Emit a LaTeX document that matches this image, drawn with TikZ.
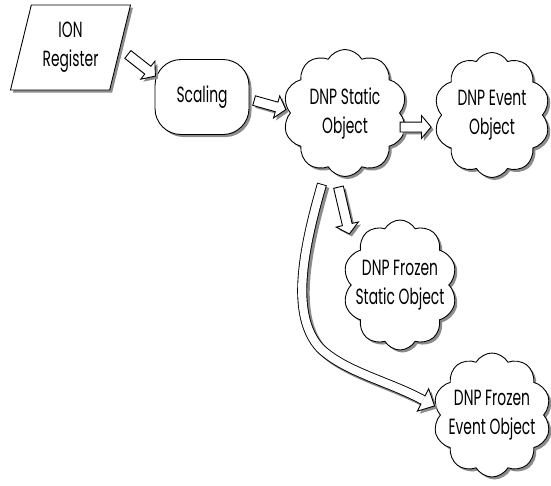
\documentclass[tikz,border=0pt]{standalone}
\usepackage{fontspec}
\setmainfont{Poppins}[FakeStretch=0.63]
\usetikzlibrary{shapes.geometric,shapes.symbols,shapes.arrows,shadows,calc}
\begin{document}
\begin{tikzpicture}[x=1pt,y=-1pt, line width=0.9pt,
  shad/.style={drop shadow={shadow xshift=2.5pt, shadow yshift=-2.5pt, fill=black!45, opacity=1}},
  box/.style={draw, fill=white, shad, align=center, font=\fontsize{22}{29}\selectfont, inner sep=0pt},
  cl/.style={box, cloud, cloud puffs=10, cloud puff arc=120, aspect=1, inner xsep=-25pt, inner ysep=0pt},
  barrow/.style={single arrow, draw, fill=white, shad, inner sep=0pt,
    single arrow head extend=6.5pt, single arrow tip angle=100, sloped, anchor=center}
]
\useasboundingbox (0,0) rectangle (551,485);

\node[box, trapezium, trapezium left angle=73.6, trapezium right angle=106.4,
  trapezium stretches=true, minimum width=121, minimum height=85] (ion) at (70.5,47.5) {ION\\Register};
\node[box, rounded corners=26pt, minimum width=94, minimum height=75] (scal) at (202,97) {Scaling};
\node[cl, minimum width=124, minimum height=127] (stat) at (345,113) {DNP Static\\Object};
\node[cl, minimum width=116, minimum height=125] (evt) at (492,115) {DNP Event\\Object};
\node[cl, minimum width=114, minimum height=130] (fst) at (400,285) {DNP Frozen\\Static Object};
\node[cl, minimum width=118, minimum height=124] (fev) at (492,415) {DNP Frozen\\Event Object};

% block arrows
\coordinate (a1) at (126,53);  \coordinate (a2) at (154,75);
\coordinate (b1) at (252,100); \coordinate (b2) at (284,109);
\coordinate (c1) at (398,127); \coordinate (c2) at (429,127);
\coordinate (d1) at (338,185); \coordinate (d2) at (349,232);
\path (a1) -- node[barrow, minimum height=35] {\rule{0pt}{9pt}} (a2);
\path (b1) -- node[barrow, minimum height=33] {\rule{0pt}{9pt}} (b2);
\path (c1) -- node[barrow, minimum height=31] {\rule{0pt}{9pt}} (c2);
\path (d1) -- node[barrow, minimum height=48] {\rule{0pt}{9pt}} (d2);

% curved arrow
\coordinate (cs) at (322,184);
\coordinate (ce) at (423,400);
\begin{scope}[transform canvas={shift={(2.5pt,-2.5pt)}}]
  \draw[black!45, line width=10pt] (cs) .. controls (303,250) and (290,315) .. (320,348)
     .. controls (345,372) and (388,381) .. (ce);
  \begin{scope}[shift={(ce)}, rotate=-27]
    \fill[black!45] (0,-12.5) -- (13,0) -- (0,12.5) -- cycle;
  \end{scope}
\end{scope}
\draw[black, line width=10pt] (cs) .. controls (303,250) and (290,315) .. (320,348)
   .. controls (345,372) and (388,381) .. (ce);
\draw[white, line width=8.2pt, shorten <=0.9pt] (cs) .. controls (303,250) and (290,315) .. (320,348)
   .. controls (345,372) and (388,381) .. (ce);
\begin{scope}[shift={(ce)}, rotate=-27]
  \fill[white] (0,-12.5) -- (13,0) -- (0,12.5) -- cycle;
  \draw[line join=miter] (0,-4.2) -- (0,-12.5) -- (13,0) -- (0,12.5) -- (0,4.2);
\end{scope}
\end{tikzpicture}
\end{document}
